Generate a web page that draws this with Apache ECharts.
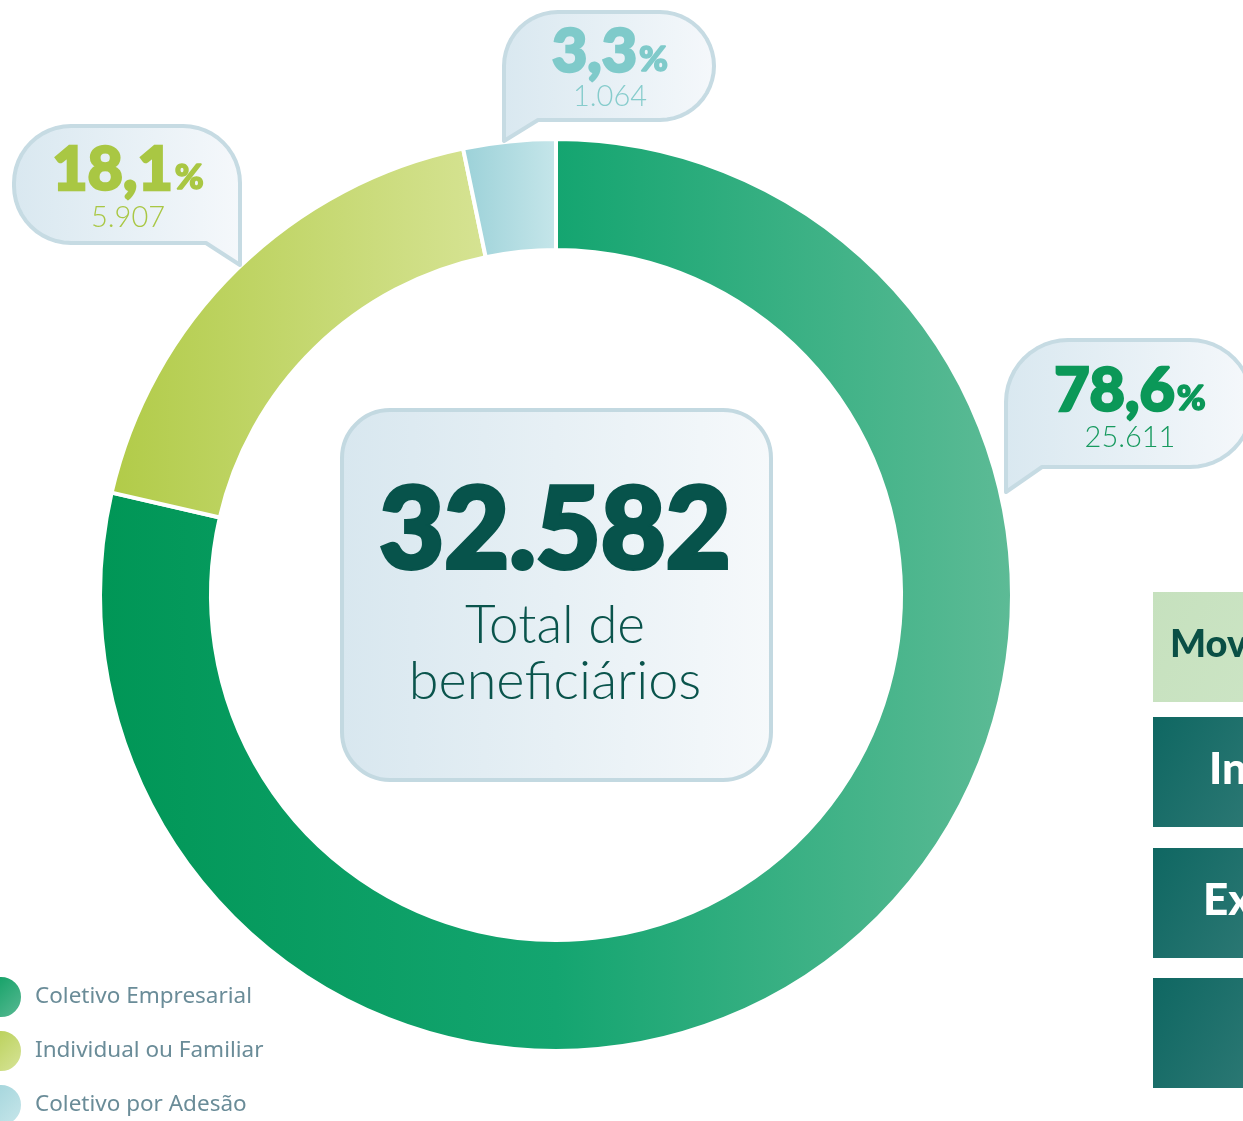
<!DOCTYPE html>
<html><head><meta charset="utf-8">
<script src="https://cdn.jsdelivr.net/npm/echarts@6/dist/echarts.min.js"></script>
<style>html,body{margin:0;padding:0;background:#fff;}#c{width:1243px;height:1121px;}</style>
</head><body><div id="c"></div>
<script>
var categories = ['Coletivo Empresarial', 'Individual ou Familiar', 'Coletivo por Adesão'];
var values = [25611, 5907, 1064];
var valueLabels = ['25.611', '5.907', '1.064'];
var percentLabels = ['78,6', '18,1', '3,3'];
var totalLabel = '32.582';
var totalCaption = ['Total de', 'beneficiários'];
var sideLabels = ['Movimentação', 'Inclusões', 'Exclusões', ''];

function lg(x2, y2, stops) {
  return {type: 'linear', x: 0, y: 0, x2: x2, y2: y2, global: false,
    colorStops: stops.map(function (s) { return {offset: s[0], color: s[1]}; })};
}
var sliceColors = [
  lg(1, 0, [[0, '#009656'], [0.5, '#14a570'], [1, '#5dbb96']]),
  lg(1, 0, [[0, '#b1cb48'], [1, '#d6e393']]),
  lg(1, 0, [[0, '#9bd1d8'], [1, '#c6e6ea']])
];
var legendColors = [
  lg(1, 1, [[0, '#009a5a'], [1, '#5dbb96']]),
  lg(1, 1, [[0, '#b1cb48'], [1, '#d9e59c']]),
  lg(1, 1, [[0, '#9bd1d8'], [1, '#c9e7eb']])
];
var textColors = ['#0b9858', '#a9c743', '#7fcaca'];
var valueColors = ['#179a5f', '#a9c743', '#86cccc'];
var bubbleStroke = '#c6dbe3';

function arcPts(cx, cy, r, a0, a1) {
  var pts = [];
  var n = 12;
  for (var k = 0; k <= n; k++) {
    var a = (a0 + (a1 - a0) * k / n) * Math.PI / 180;
    pts.push([cx + r * Math.cos(a), cy + r * Math.sin(a)]);
  }
  return pts;
}
function bubble(x0, y0, x1, y1, r, tail, tip, tailStartX) {
  var pts = [];
  pts = pts.concat(arcPts(x0 + r, y0 + r, r, 180, 270));
  pts = pts.concat(arcPts(x1 - r, y0 + r, r, 270, 360));
  if (tail === 'br') {
    pts.push([x1, tip]);
    pts.push([tailStartX, y1]);
  } else {
    pts = pts.concat(arcPts(x1 - r, y1 - r, r, 0, 90));
  }
  if (tail === 'bl') {
    pts.push([tailStartX, y1]);
    pts.push([x0, tip]);
  } else {
    pts = pts.concat(arcPts(x0 + r, y1 - r, r, 90, 180));
  }
  return pts;
}
var bubbles = [
  bubble(1006, 340, 1252, 467, 62, 'bl', 492, 1042),
  bubble(14, 126, 240, 243, 57, 'br', 265, 206),
  bubble(504, 12, 714, 120, 54, 'bl', 141, 538)
];
var labelPos = [[1130, 391, 438], [128, 170, 218], [610, 52, 97]];

var graphics = [];
bubbles.forEach(function (p) {
  graphics.push({type: 'polygon', z: 10, shape: {points: p},
    style: {fill: lg(1, 0, [[0, '#d9e8f0'], [1, '#f5f8fb']]), stroke: bubbleStroke, lineWidth: 4, lineJoin: 'round'}});
});
labelPos.forEach(function (pos, i) {
  graphics.push({type: 'text', z: 12, x: pos[0], y: pos[1], style: {
    text: '{a|' + percentLabels[i] + '}{b|%}', align: 'center', verticalAlign: 'middle',
    rich: {
      a: {fontFamily: 'Lato', fontWeight: 900, fontSize: 61, fill: textColors[i],
          stroke: textColors[i], lineWidth: 2.5},
      b: {fontFamily: 'Lato', fontWeight: 900, fontSize: 35, fill: textColors[i],
          stroke: textColors[i], lineWidth: 1.5, padding: [15, 0, 0, 2]}
    }
  }});
  graphics.push({type: 'text', z: 12, x: pos[0], y: pos[2], style: {
    text: valueLabels[i], align: 'center', verticalAlign: 'middle',
    fontFamily: 'Lato', fontWeight: 300, fontSize: 29, fill: valueColors[i]
  }});
});
graphics.push({type: 'rect', z: 10, shape: {x: 342, y: 410, width: 429, height: 370, r: 48},
  style: {fill: lg(1, 0, [[0, '#d8e7ef'], [1, '#f6f9fb']]), stroke: '#c3d9e1', lineWidth: 4}});
graphics.push({type: 'text', z: 12, x: 555, y: 532, style: {text: totalLabel, align: 'center', verticalAlign: 'middle',
  fontFamily: 'Lato', fontWeight: 900, fontSize: 112, fill: '#07534b', stroke: '#07534b', lineWidth: 4}});
graphics.push({type: 'text', z: 12, x: 555, y: 626, style: {text: totalCaption[0], align: 'center', verticalAlign: 'middle',
  fontFamily: 'Lato', fontWeight: 300, fontSize: 53, fill: '#0a544c'}});
graphics.push({type: 'text', z: 12, x: 555, y: 682, style: {text: totalCaption[1], align: 'center', verticalAlign: 'middle',
  fontFamily: 'Lato', fontWeight: 300, fontSize: 54, fill: '#0a544c'}});
var sideTops = [592, 717, 848, 978];
var sideTextX = [1170, 1209, 1203, 1203];
sideTops.forEach(function (t, i) {
  var fill = i === 0
    ? lg(1, 1, [[0, '#c6e1be'], [1, '#cfe6c8']])
    : lg(1, 1, [[0, '#0f6762'], [1, '#3e837f']]);
  graphics.push({type: 'rect', z: 5, shape: {x: 1153, y: t, width: 200, height: 110}, style: {fill: fill}});
  if (sideLabels[i]) {
    graphics.push({type: 'text', z: 6, x: sideTextX[i], y: t + 53, style: {text: sideLabels[i], align: 'left', verticalAlign: 'middle',
      fontFamily: 'Lato', fontWeight: 900, fontSize: i === 0 ? 38 : 44, fill: i === 0 ? '#0a4f45' : '#ffffff'}});
  }
});

var chart = echarts.init(document.getElementById('c'), null, {renderer: 'canvas'});
chart.setOption({
  backgroundColor: '#ffffff',
  animation: false,
  legend: {
    orient: 'vertical', left: -21, top: 975, padding: 0, height: 220,
    icon: 'circle', itemWidth: 42, itemHeight: 42, itemGap: 10,
    data: categories.map(function (c, i) { return {name: c, itemStyle: {color: legendColors[i]}}; }),
    textStyle: {fontFamily: 'Noto Sans', fontSize: 22.5, color: '#6a8c98', padding: [0, 0, 0, 8]}
  },
  series: [{
    type: 'pie',
    center: [556, 595],
    radius: [345, 456],
    startAngle: 90,
    clockwise: true,
    label: {show: false},
    labelLine: {show: false},
    itemStyle: {borderColor: '#ffffff', borderWidth: 4},
    data: categories.map(function (c, i) {
      return {name: c, value: values[i], itemStyle: {color: sliceColors[i]}};
    })
  }],
  graphic: graphics
});
</script></body></html>
